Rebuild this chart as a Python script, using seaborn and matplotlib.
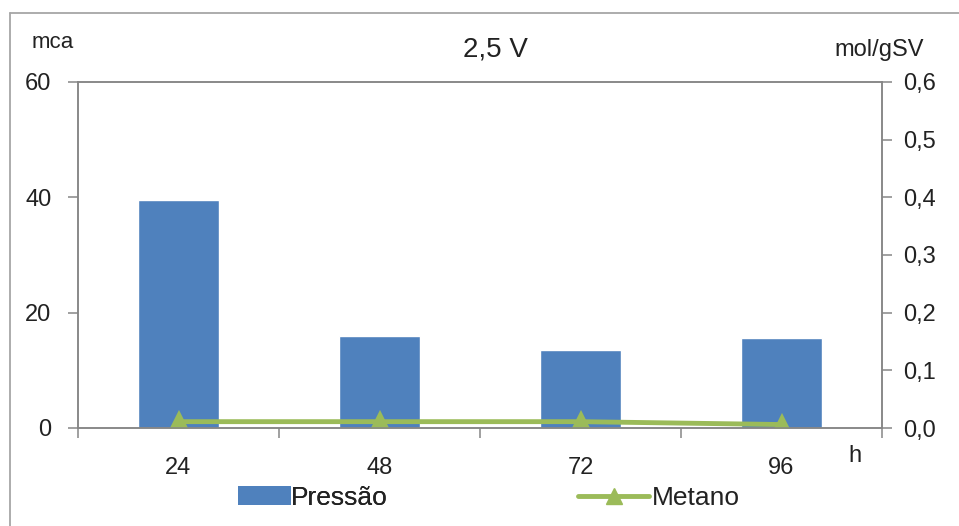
import numpy as np
import pandas as pd
import matplotlib
matplotlib.use('Agg')
import matplotlib.pyplot as plt
from matplotlib.lines import Line2D
from matplotlib.patches import Patch
import seaborn as sns

sns.set_theme(style='white')
plt.rcParams['font.family'] = ['Liberation Sans', 'DejaVu Sans']

# data
horas = ['24', '48', '72', '96']
pressao = [39.5, 16.0, 13.5, 15.6]      # mca
metano = [0.011, 0.011, 0.011, 0.006]   # mol/gSV

df = pd.DataFrame({'h': horas, 'Pressão': pressao, 'Metano': metano})

cor_barra = '#4F81BD'
cor_linha = '#9BBB59'
cinza = '#868686'
texto = '#222222'

fig = plt.figure(figsize=(9.59, 5.26), dpi=100)
ax = fig.add_axes([78 / 959, 1 - 428 / 526, 804 / 959, 346 / 526])

sns.barplot(data=df, x='h', y='Pressão', color=cor_barra, width=0.4,
            saturation=1, ax=ax)
ax.set_xlim(-0.5, 3.5)
ax.set_ylim(0, 60)
ax.set_yticks([0, 20, 40, 60])
ax.set_xlabel('')
ax.set_ylabel('')

# category labels in the middle, tick marks on the boundaries
ax.set_xticks([-0.5, 0.5, 1.5, 2.5, 3.5])
ax.set_xticklabels([])
ax.set_xticks(range(len(horas)), minor=True)
ax.set_xticklabels(horas, minor=True)
ax.tick_params(axis='x', which='major', direction='out', length=7, width=1.1,
               color=cinza, bottom=True)
ax.tick_params(axis='x', which='minor', length=0, pad=21, labelsize=17,
               labelcolor=texto)
ax.tick_params(axis='y', direction='out', length=7, width=1.1, color=cinza,
               left=True, pad=12, labelsize=17, labelcolor=texto)

ax2 = ax.twinx()
sns.pointplot(data=df, x='h', y='Metano', color=cor_linha, markers='^',
              markersize=12, linewidth=3.5, ax=ax2)
ax2.set_xlim(-0.5, 3.5)
ax2.set_ylim(0, 0.6)
ax2.set_yticks(np.arange(0, 0.61, 0.1))
ax2.set_yticklabels([f'{v:.1f}'.replace('.', ',') for v in np.arange(0, 0.61, 0.1)])
ax2.set_ylabel('')
ax2.set_xlabel('')
ax2.tick_params(axis='y', direction='out', length=7, width=1.1, color=cinza,
                right=True, pad=8, labelsize=17, labelcolor=texto)

for a in (ax, ax2):
    for s in a.spines.values():
        s.set_color(cinza)
        s.set_linewidth(1.1)
    a.grid(False)

# axis captions and title
fig.text(53 / 959, 1 - 42 / 526, 'mca', ha='center', va='center', fontsize=16, color=texto)
fig.text(879 / 959, 1 - 50 / 526, 'mol/gSV', ha='center', va='center', fontsize=17, color=texto)
fig.text(495 / 959, 1 - 49 / 526, '2,5 V', ha='center', va='center', fontsize=20, color=texto)
fig.text(855 / 959, 1 - 456 / 526, 'h', ha='center', va='center', fontsize=17, color=texto)

# legend: two entries placed separately, as in the original
leg1 = fig.legend(handles=[Patch(facecolor=cor_barra, edgecolor='none', label='Pressão')],
                  loc='center left', bbox_to_anchor=(238 / 959, 1 - 498 / 526),
                  frameon=False, fontsize=19, handlelength=2.0, handleheight=0.75,
                  handletextpad=0.0, borderpad=0, borderaxespad=0, labelcolor=texto)
fig.add_artist(leg1)
fig.legend(handles=[Line2D([0], [0], color=cor_linha, lw=3.5, marker='^', markersize=11,
                           label='Metano')],
           loc='center left', bbox_to_anchor=(578 / 959, 1 - 498 / 526),
           frameon=False, fontsize=19, handlelength=2.7, handletextpad=0.1,
           borderpad=0, borderaxespad=0, labelcolor=texto)

# outer chart border
fig.add_artist(Line2D([10 / 959, 10 / 959], [0, 1 - 13 / 526], transform=fig.transFigure,
                      color='#A6A6A6', lw=1.3))
fig.add_artist(Line2D([10 / 959, 1], [1 - 13 / 526, 1 - 13 / 526], transform=fig.transFigure,
                      color='#A6A6A6', lw=1.3))

fig.savefig('out.png', dpi=100, facecolor='white')
